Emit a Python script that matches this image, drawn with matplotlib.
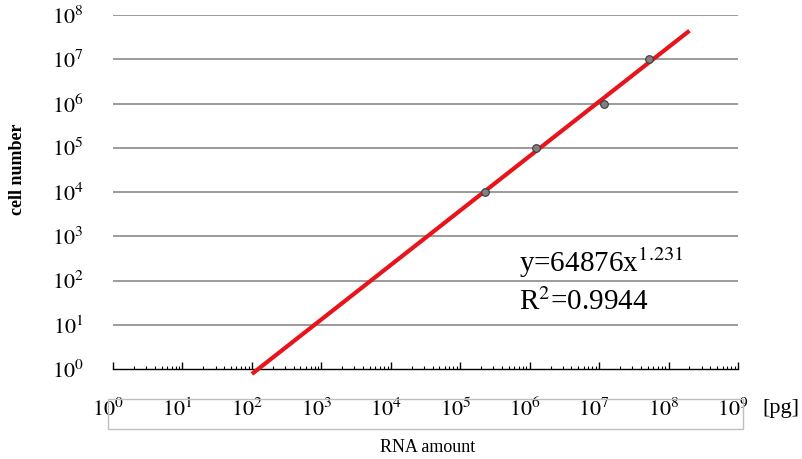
import numpy as np
import matplotlib
matplotlib.use("Agg")
import matplotlib.pyplot as plt
import matplotlib.transforms as mtransforms
from matplotlib.patches import Rectangle

plt.rcParams['font.family'] = ['Liberation Serif', 'DejaVu Serif']
plt.rcParams['mathtext.fontset'] = 'stix'

# data
rna_pg = [2.24e5, 1.23e6, 1.16e7, 5.3e7]
cells = [1e4, 1e5, 1e6, 1e7]
# power trendline: y = 64876 * x^1.231 (x in ug)
coef = 64876
expo = 1.231
r2 = 0.9944
fit_range = [1e2, 2e8]
x_decades = list(range(0, 10))
y_decades = list(range(0, 9))

fig = plt.figure(figsize=(8.02, 4.59), dpi=100)
ax = fig.add_axes([113/802, 1-369/459, 625/802, 354/459])

ax.set_xscale('log')
ax.set_yscale('log')
ax.set_xlim(1e0, 1e9)
ax.set_ylim(1e0, 1e8)

# horizontal gridlines
for d in y_decades[1:]:
    ax.axhline(10.0**d, color='#808080', lw=1.1, zorder=1)

xf = np.array(fit_range)
yf = coef * (xf / 1e6) ** expo
ax.plot(xf, yf, color='#e8141c', lw=3.0, solid_capstyle='butt', zorder=3, clip_on=False)
ax.plot(rna_pg, cells, 'o', ms=5.5, mfc='#808080', mec='#3a3a3a', mew=0.8, zorder=4)

for s in ['left', 'top', 'right']:
    ax.spines[s].set_visible(False)
ax.spines['bottom'].set_color('black')
ax.spines['bottom'].set_linewidth(1.0)

ax.set_xticks([10.0**d for d in x_decades])
ax.set_xticklabels([r'$10^{%d}$' % d for d in x_decades])
ax.set_yticks([10.0**d for d in y_decades])
ax.set_yticklabels([r'$10^{%d}$' % d for d in y_decades])
ax.tick_params(axis='x', which='major', direction='in', length=5, width=1, pad=21, labelsize=16)
ax.tick_params(axis='x', which='minor', direction='in', length=2.5, width=0.8)
ax.tick_params(axis='y', which='both', length=0, pad=21, labelsize=16)
ax.yaxis.set_minor_locator(matplotlib.ticker.NullLocator())

shift = mtransforms.ScaledTranslation(-5/100, 0, fig.dpi_scale_trans)
for lab in ax.get_xticklabels():
    lab.set_transform(lab.get_transform() + shift)

# box around x tick labels
fig.patches.append(Rectangle((108/802, 1-429/459), 635/802, 30/459, transform=fig.transFigure,
                             fill=False, edgecolor='#bfbfbf', lw=1))

fig.text(781/802, 1-408/459, '[pg]', ha='center', va='center', fontsize=16)
fig.text(428/802, 1-447/459, 'RNA amount', ha='center', va='center', fontsize=13)
fig.text(18/802, 1-169/459, 'cell number', ha='center', va='center', rotation=90,
         fontsize=13, fontweight='bold')

fig.text(519/802, 1-272/459, 'y=%dx$^{%.3f}$' % (coef, expo), ha='left', va='baseline', fontsize=21)
fig.text(519/802, 1-310/459, 'R$^{2}$=%.4f' % r2, ha='left', va='baseline', fontsize=21)

fig.savefig('out.png', dpi=100)
